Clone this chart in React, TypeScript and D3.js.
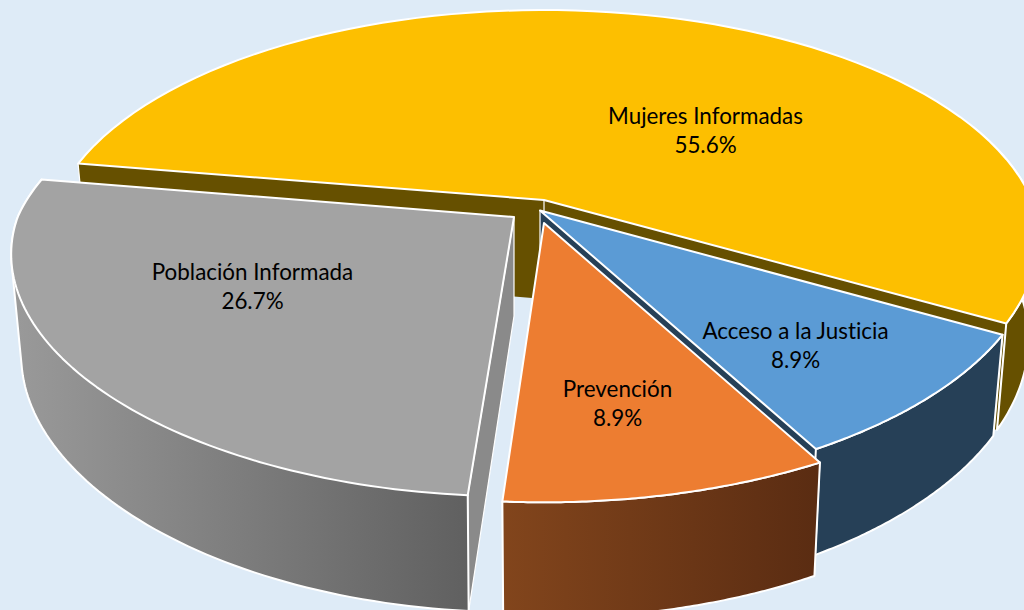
import React from "react";
import * as d3 from "d3";

const categories = ["Mujeres Informadas", "Acceso a la Justicia", "Prevención", "Población Informada"];
const shares = [55.6, 8.9, 8.9, 26.7];
const labels = ["55.6%", "8.9%", "8.9%", "26.7%"];
const topColors = ["#fdbf00", "#5b9bd5", "#ed7d31", "#a3a3a3"];
const wallFrom = ["#665000", "#264057", "#82451c", "#9a9a9a"];
const wallTo = ["#665000", "#264057", "#5a2c12", "#606060"];
const innerWall = ["#665000", "#264057", "#82451c", "#8a8a8a"];
const centers: [number, number][] = [[544, 200], [540, 210.5], [544, 223], [514, 217]];
const scaleX = [1, 1.005, 1.03, 1.017];
const scaleY = [1, 0.985, 0.98, 0.98];
const depthScale = [1, 0.95, 1, 1];
const startTweak = [0, 0.4, 0.5, 1.0];
const endTweak = [-0.2, -0.3, 0.5, 0.5];
const labelPos: [number, number][] = [[705.5, 124], [795.5, 339], [617.5, 397], [252.5, 280]];

const RX = 488, RY = 228, PERSP = 0.2, DEPTH = 99, DEPTH_SHRINK = 0.98;
const toRad = Math.PI / 180;
const arcs = d3.pie<number>().sort(null).startAngle(-80.5 * toRad).endAngle(279.5 * toRad)(shares);

const project = (i: number, phi: number, r: number, z: number): [number, number] => {
  const c = centers[i];
  const u = Math.sin(phi) * r;
  const v = -Math.cos(phi) * r;
  const w = 1 / (1 - PERSP * v);
  const shrink = z ? DEPTH_SHRINK : 1;
  return [
    c[0] + RX * scaleX[i] * u * (w < 1 ? w : Math.pow(w, 0.8)) * shrink,
    c[1] + RY * scaleY[i] * v * w + z * DEPTH * depthScale[i] * Math.pow(w, 0.7),
  ];
};
const line = d3.line<[number, number]>();
const sweep = (i: number, a: number, b: number, z: number) =>
  d3.range(0, 81).map((k) => project(i, a + ((b - a) * k) / 80, 1, z));

export default function App() {
  return (
    <svg width={1024} height={610} style={{ position: "fixed", left: 0, top: 0, background: "#deebf7" }}>
      <defs>
        {categories.map((_, i) => (
          <linearGradient key={i} id={`wall${i}`} gradientUnits="objectBoundingBox" x1="0" x2="1" y1="0" y2="0">
            <stop offset="0" stopColor={wallFrom[i]} />
            <stop offset="1" stopColor={wallTo[i]} />
          </linearGradient>
        ))}
      </defs>
      {arcs.map((d, i) => {
        const a = d.startAngle + startTweak[i] * toRad;
        const b = d.endAngle + endTweak[i] * toRad;
        const frontA = Math.max(a, 70 * toRad);
        const frontB = Math.min(b, 280 * toRad);
        const apex = project(i, 0, 0, 0);
        const apexLow = project(i, 0, 0, 1);
        const top = [apex, ...sweep(i, a, b, 0)];
        const band = [...sweep(i, frontA, frontB, 0), ...sweep(i, frontA, frontB, 1).reverse()];
        const outer = i === 3 ? d3.polygonHull(band)! : band;
        const wallA = [apex, project(i, a, 1, 0), project(i, a, 1, 1), apexLow];
        const wallB = [apex, project(i, b, 1, 0), project(i, b, 1, 1), apexLow];
        const edges = [
          line([apex, apexLow]),
          line([project(i, a, 1, 0), project(i, a, 1, 1)]),
          line([project(i, b, 1, 0), project(i, b, 1, 1)]),
        ].join("");
        return (
          <g key={categories[i]} stroke="#fff" strokeWidth={2} strokeLinejoin="round">
            <path d={line(wallB)! + "Z"} fill={innerWall[i]} stroke="none" />
            <path d={line(wallA)! + "Z"} fill={innerWall[i]} stroke={i === 3 ? "#fff" : "none"} strokeWidth={1.2} />
            <path d={edges} fill="none" strokeWidth={1.2} stroke={i === 3 ? "none" : "#fff"} />
            <path d={line(outer)! + "Z"} fill={`url(#wall${i})`} />
            <path d={line(top)! + "Z"} fill={topColors[i]} />
          </g>
        );
      })}
      {categories.map((name, i) => (
        <text key={name} x={labelPos[i][0]} y={labelPos[i][1]} textAnchor="middle" fontFamily="Lato, 'Open Sans', sans-serif" fontSize={22.4} fill="#000" style={{ fontVariantLigatures: "none" }}>
          <tspan x={labelPos[i][0]}>{name}</tspan>
          <tspan x={labelPos[i][0]} dy={29}>{labels[i]}</tspan>
        </text>
      ))}
    </svg>
  );
}
